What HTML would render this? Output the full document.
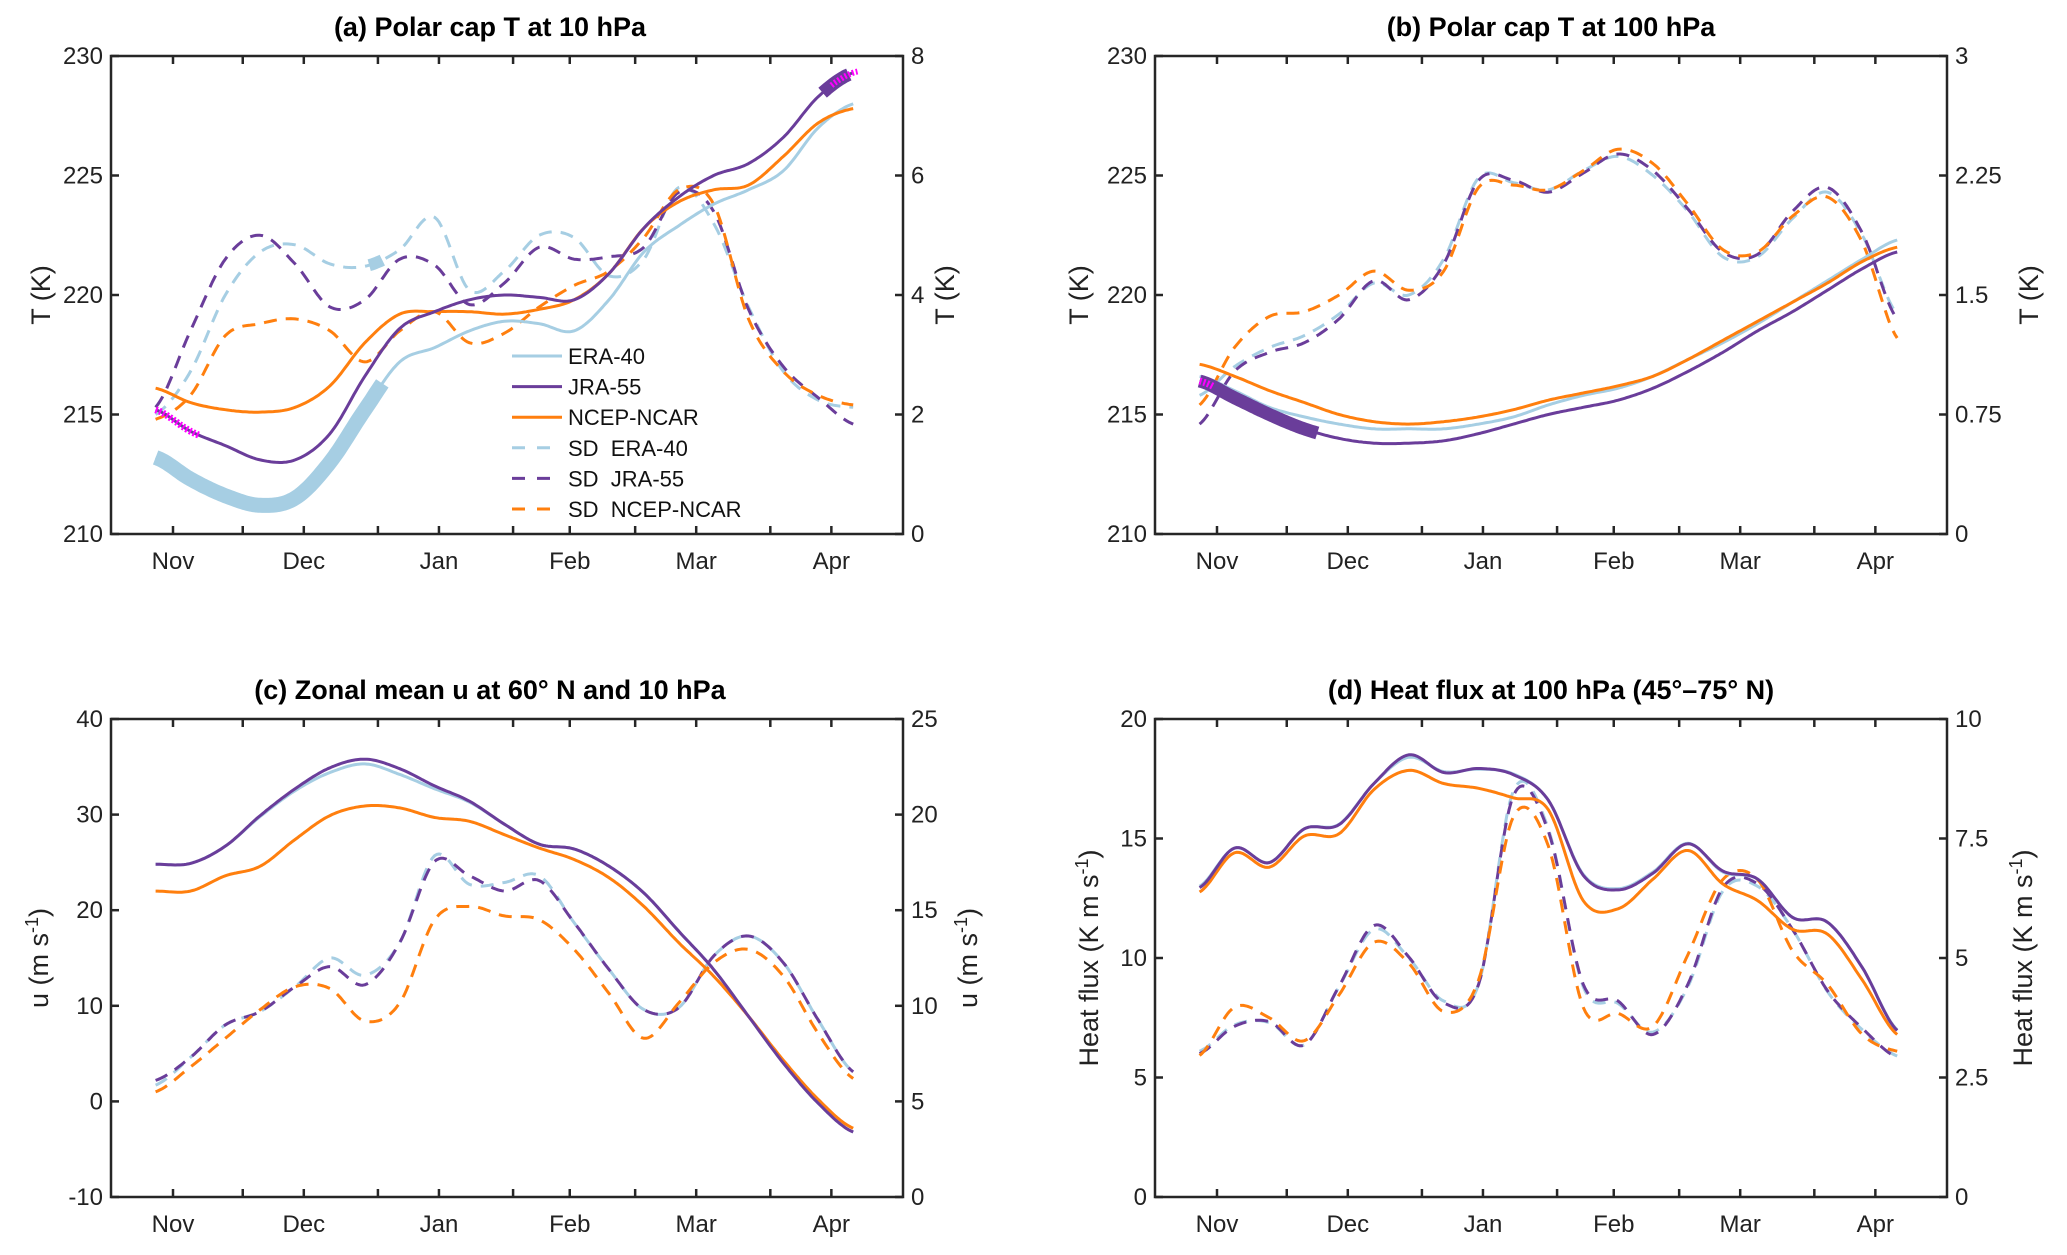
<!DOCTYPE html>
<html><head><meta charset="utf-8"><style>
html,body{margin:0;padding:0;background:#fff;}
svg{display:block;font-family:"Liberation Sans",Arial,sans-serif;}
</style></head><body>
<svg id="fig" width="2067" height="1255" viewBox="0 0 2067 1255" xmlns="http://www.w3.org/2000/svg"></svg>
<script>
// shared sample days (days since Nov 1)
const days = [-4,4,12,20,28,36,44,52,60,68,76,84,92,100,108,116,124,132,140,148,156];
const monthLabels = ["Nov","Dec","Jan","Feb","Mar","Apr"];
const monthDays = [0,30,61,91,120,151];
const minorDays = [16,47,78,106,137];

// (a) Polar cap T at 10 hPa
const aERA = [213.2,212.3,211.6,211.2,211.5,213.0,215.2,217.2,217.8,218.5,218.9,218.8,218.5,219.8,221.8,222.9,223.8,224.4,225.2,227.0,228.0];
const aJRA = [215.2,214.3,213.7,213.1,213.1,214.2,216.6,218.6,219.3,219.8,220.0,219.9,219.8,220.9,222.8,224.1,225.0,225.5,226.6,228.3,229.3];
const aNCEP = [216.1,215.5,215.2,215.1,215.3,216.2,218.0,219.2,219.3,219.3,219.2,219.4,219.8,220.9,222.8,223.9,224.4,224.6,225.8,227.2,227.8];
const aSdERA = [2.0,2.72,4.0,4.72,4.84,4.52,4.48,4.76,5.3,4.08,4.4,5.0,4.96,4.32,4.6,5.8,5.2,3.8,2.72,2.24,2.12];
const aSdJRA = [2.12,3.4,4.6,5.0,4.52,3.8,3.92,4.6,4.5,3.84,4.2,4.8,4.6,4.64,4.8,5.72,5.4,3.76,2.8,2.28,1.84];
const aSdNCEP = [1.92,2.32,3.32,3.52,3.6,3.4,2.88,3.4,3.72,3.2,3.36,3.8,4.16,4.4,4.96,5.76,5.52,3.6,2.72,2.32,2.16];
const aLeftTicks = [210,215,220,225,230];
const aRightTicks = [0,2,4,6,8];

// (b) Polar cap T at 100 hPa
const bERA = [216.6,216.0,215.3,214.9,214.6,214.4,214.4,214.4,214.6,214.9,215.4,215.8,216.1,216.6,217.3,218.0,218.8,219.7,220.6,221.5,222.3];
const bJRA = [216.4,215.7,215.0,214.4,214.0,213.8,213.8,213.9,214.2,214.6,215.0,215.3,215.6,216.1,216.8,217.6,218.5,219.3,220.2,221.1,221.8];
const bNCEP = [217.1,216.6,216.0,215.5,215.0,214.7,214.6,214.7,214.9,215.2,215.6,215.9,216.2,216.6,217.3,218.1,218.9,219.7,220.5,221.4,222.0];
const bSdERA = [0.87,1.05,1.17,1.245,1.38,1.575,1.5,1.725,2.235,2.205,2.16,2.28,2.37,2.25,2.025,1.74,1.74,1.98,2.145,1.875,1.38];
const bSdJRA = [0.69,1.02,1.14,1.2,1.35,1.59,1.47,1.695,2.22,2.22,2.145,2.265,2.385,2.28,2.04,1.77,1.755,2.025,2.175,1.89,1.35];
const bSdNCEP = [0.81,1.17,1.365,1.395,1.5,1.65,1.53,1.65,2.175,2.19,2.16,2.28,2.415,2.325,2.07,1.785,1.77,1.995,2.115,1.83,1.23];
const bLeftTicks = [210,215,220,225,230];
const bRightTicks = [0,0.75,1.5,2.25,3];

// (c) Zonal mean u at 60N, 10 hPa
const cERA = [24.8,24.9,26.7,29.8,32.5,34.4,35.3,34.2,32.7,31.3,29.0,26.9,26.4,24.6,21.8,17.8,13.8,8.9,4.0,-0.2,-3.2];
const cJRA = [24.8,24.9,26.7,29.9,32.7,34.9,35.8,34.8,33.0,31.4,29.0,26.9,26.4,24.6,21.8,17.8,13.8,8.9,4.0,-0.2,-3.2];
const cNCEP = [22.0,22.0,23.6,24.6,27.4,29.9,30.9,30.7,29.7,29.3,27.9,26.5,25.3,23.4,20.4,16.6,13.1,8.9,4.3,0.2,-2.8];
const cSdERA = [5.85,7.3,9.0,9.7,11.0,12.5,11.6,13.3,17.85,16.35,16.45,16.8,14.35,11.9,9.8,9.9,12.6,13.65,12.25,9.25,6.55];
const cSdJRA = [6.1,7.3,9.0,9.7,11.0,12.05,11.1,13.3,17.55,16.8,16.0,16.55,14.35,11.9,9.8,9.9,12.6,13.65,12.25,9.25,6.55];
const cSdNCEP = [5.5,6.8,8.3,9.8,11.0,10.9,9.2,10.15,14.5,15.2,14.7,14.5,12.95,10.65,8.3,10.15,12.25,12.95,11.55,8.55,6.2];
const cLeftTicks = [-10,0,10,20,30,40];
const cRightTicks = [0,5,10,15,20,25];

// (d) Heat flux at 100 hPa
const dERA = [13.0,14.6,14.0,15.4,15.6,17.3,18.4,17.8,17.9,17.7,16.6,13.5,12.9,13.6,14.8,13.6,13.3,11.7,11.5,9.6,7.0];
const dJRA = [12.94,14.6,13.99,15.4,15.58,17.3,18.5,17.76,17.93,17.67,16.6,13.46,12.85,13.55,14.78,13.64,13.3,11.7,11.5,9.6,6.97];
const dNCEP = [12.76,14.4,13.8,15.1,15.2,17.05,17.85,17.3,17.1,16.7,16.2,12.4,12.06,13.3,14.5,13.1,12.4,11.2,11.0,9.08,6.8];
const dSdERA = [3.05,3.6,3.65,3.18,4.4,5.6,5.0,4.1,4.45,8.5,7.7,4.4,4.05,3.45,4.4,6.4,6.5,5.6,4.3,3.5,2.95];
const dSdJRA = [3.0,3.57,3.67,3.18,4.41,5.68,5.02,4.06,4.45,8.4,7.65,4.45,4.1,3.4,4.45,6.47,6.55,5.6,4.32,3.53,2.92];
const dSdNCEP = [2.96,3.97,3.75,3.27,4.23,5.33,4.89,3.88,4.54,7.96,7.34,3.97,3.84,3.57,5.07,6.64,6.64,5.15,4.45,3.4,3.05];
const dLeftTicks = [0,5,10,15,20];
const dRightTicks = [0,2.5,5,7.5,10];

const COL = {era:"#a6cee3", jra:"#6a3d9a", ncep:"#ff7f0e", sig:"#ff00ff"};
const NS = "http://www.w3.org/2000/svg";
const svg = document.getElementById("fig");

function mk(tag, attrs, parent){
  const e = document.createElementNS(NS, tag);
  for (const k in attrs) e.setAttribute(k, attrs[k]);
  (parent||svg).appendChild(e);
  return e;
}
function evalCR(vs, t){
  const step = days[1]-days[0];
  let f = (t - days[0]) / step;
  let i = Math.min(Math.max(Math.floor(f),0), vs.length-2);
  const u = f - i;
  const p0 = vs[Math.max(i-1,0)], p1 = vs[i], p2 = vs[i+1], p3 = vs[Math.min(i+2,vs.length-1)];
  return 0.5*((2*p1)+(-p0+p2)*u+(2*p0-5*p1+4*p2-p3)*u*u+(-p0+3*p1-3*p2+p3)*u*u*u);
}
function pathFor(vs, xs, ys, t0, t1){
  let d = "";
  for (let t=t0; t<=t1+1e-6; t+=0.5){
    d += (d ? "L" : "M") + xs(t).toFixed(1) + "," + ys(evalCR(vs,t)).toFixed(1);
  }
  return d;
}
function fmt(v){ return String(v); }

function panel(cfg){
  const {id,x0,x1,y0,y1,lmin,lmax,rmin,rmax} = cfg;
  const g = mk("g",{});
  
  
  const xs = d => x0 + 62 + 4.36*d;
  const yl = v => y1 - (v-lmin)/(lmax-lmin)*(y1-y0);
  const yr = v => y1 - (v-rmin)/(rmax-rmin)*(y1-y0);
  const tt = mk("text",{x:cfg.tx, y:y0-20, "text-anchor":"middle", "font-size":27, "font-weight":"bold", fill:"#000"}, g);
  tt.textContent = cfg.title;
  
  
  const lines = mk("g",{fill:"none","stroke-linejoin":"round","stroke-linecap":"butt"}, g);
  
  
  (cfg.bands||[]).forEach(b=>{
    const p = mk("path",{d:pathFor(b.vs,xs,b.right?yr:yl,b.t0,b.t1), stroke:b.c, "stroke-width":b.w, "stroke-dasharray":b.dash||"none"}, lines);
    
    
  });
  const ser = [
    {vs:cfg.sdE,c:COL.era,r:true,n:"sd-era-40"},
    {vs:cfg.sdJ,c:COL.jra,r:true,n:"sd-jra-55"},
    {vs:cfg.sdN,c:COL.ncep,r:true,n:"sd-ncep-ncar"},
    {vs:cfg.mE,c:COL.era,r:false,n:"era-40-line"},
    {vs:cfg.mN,c:COL.ncep,r:false,n:"ncep-ncar-line"},
    {vs:cfg.mJ,c:COL.jra,r:false,n:"jra-55-line"}
  ];
  ser.forEach(s=>{
    const p = mk("path",{d:pathFor(s.vs,xs,s.r?yr:yl,days[0],days[days.length-1]), stroke:s.c, "stroke-width":3, "stroke-dasharray": s.r ? "13,9" : "none"}, lines);
    
    
  });
  (cfg.bandsTop||[]).forEach(b=>{
    const p = mk("path",{d:pathFor(b.vs,xs,b.right?yr:yl,b.t0,b.t1), stroke:b.c, "stroke-width":b.w, "stroke-dasharray":b.dash||"none"}, lines);
    
    
  });
  const box = mk("rect",{x:x0,y:y0,width:x1-x0,height:y1-y0,fill:"none",stroke:"#262626","stroke-width":2.5}, g);
  
  
  const tk = mk("g",{stroke:"#262626","stroke-width":2.5}, g);
  
  
  monthDays.concat(minorDays).forEach(d=>{
    const x = xs(d);
    mk("line",{x1:x,x2:x,y1:y1,y2:y1-8},tk);
    mk("line",{x1:x,x2:x,y1:y0,y2:y0+8},tk);
  });
  monthDays.forEach((d,i)=>{
    const t = mk("text",{x:xs(d), y:y1+35, "text-anchor":"middle","font-size":24,fill:"#222"}, g);
    t.textContent = monthLabels[i];
    
    
  });
  cfg.lt.forEach(v=>{
    const y = yl(v);
    mk("line",{x1:x0,x2:x0+8,y1:y,y2:y},tk);
    const t = mk("text",{x:x0-8, y:y+8, "text-anchor":"end","font-size":24,fill:"#222"}, g);
    t.textContent = fmt(v);
    
    
  });
  cfg.rt.forEach(v=>{
    const y = yr(v);
    mk("line",{x1:x1,x2:x1-8,y1:y,y2:y},tk);
    const t = mk("text",{x:x1+8, y:y+8, "text-anchor":"start","font-size":24,fill:"#222"}, g);
    t.textContent = fmt(v);
    
    
  });
  const cy = (y0+y1)/2;
  [[cfg.lx,'left-y-axis-title'],[cfg.rx,'right-y-axis-title']].forEach(([lx,nm])=>{
    const t = mk("text",{x:lx, y:cy, "text-anchor":"middle","font-size":27,fill:"#222", transform:`rotate(-90 ${lx} ${cy})`}, g);
    
    
    if (cfg.unit){
      const a = mk("tspan",{},t); a.textContent = cfg.label + " (" + cfg.unit + " s";
      const s = mk("tspan",{"baseline-shift":"super","font-size":18},t); s.textContent = "-1";
      const c = mk("tspan",{},t); c.textContent = ")";
    } else t.textContent = cfg.label;
  });
  return {xs,yl,yr};
}

panel({id:"a",x0:111,x1:903,y0:56,y1:534,lmin:210,lmax:230,rmin:0,rmax:8,title:"(a) Polar cap T at 10 hPa",tx:490,
  mE:aERA,mJ:aJRA,mN:aNCEP,sdE:aSdERA,sdJ:aSdJRA,sdN:aSdNCEP,lt:aLeftTicks,rt:aRightTicks,lx:50,rx:954,label:"T (K)",
  bands:[{vs:aERA,c:COL.era,w:15,t0:-4,t1:48},{vs:aSdERA,c:COL.era,w:12,t0:45,t1:48,right:true},{vs:aJRA,c:COL.jra,w:13,t0:149,t1:155}],
  bandsTop:[{vs:aJRA,c:COL.sig,w:7,t0:-4,t1:6,dash:"2,2"},{vs:aJRA,c:COL.sig,w:6,t0:151,t1:157,dash:"2,2"}]});
panel({id:"b",x0:1155,x1:1947,y0:56,y1:534,lmin:210,lmax:230,rmin:0,rmax:3,title:"(b) Polar cap T at 100 hPa",tx:1551,
  mE:bERA,mJ:bJRA,mN:bNCEP,sdE:bSdERA,sdJ:bSdJRA,sdN:bSdNCEP,lt:bLeftTicks,rt:bRightTicks,lx:1088,rx:2038,label:"T (K)",
  bandsTop:[{vs:bJRA,c:COL.jra,w:13,t0:-4,t1:23},{vs:bJRA,c:COL.sig,w:7,t0:-4,t1:-1,dash:"2,2"}]});
panel({id:"c",x0:111,x1:903,y0:719,y1:1197,lmin:-10,lmax:40,rmin:0,rmax:25,title:"(c) Zonal mean u at 60° N and 10 hPa",tx:490,
  mE:cERA,mJ:cJRA,mN:cNCEP,sdE:cSdERA,sdJ:cSdJRA,sdN:cSdNCEP,lt:cLeftTicks,rt:cRightTicks,lx:48,rx:977,label:"u",unit:"m"});
panel({id:"d",x0:1155,x1:1947,y0:719,y1:1197,lmin:0,lmax:20,rmin:0,rmax:10,title:"(d) Heat flux at 100 hPa (45°–75° N)",tx:1551,
  mE:dERA,mJ:dJRA,mN:dNCEP,sdE:dSdERA,sdJ:dSdJRA,sdN:dSdNCEP,lt:dLeftTicks,rt:dRightTicks,lx:1098,rx:2032,label:"Heat flux",unit:"K m"});

const legendNames = ["ERA-40","JRA-55","NCEP-NCAR","SD  ERA-40","SD  JRA-55","SD  NCEP-NCAR"];
const legendColors = [COL.era,COL.jra,COL.ncep,COL.era,COL.jra,COL.ncep];
const lg = mk("g",{});


legendNames.forEach((n,i)=>{
  const y = 356 + i*30.6;
  const e = mk("g",{},lg);
  
  
  mk("line",{x1:512,x2:562,y1:y,y2:y,stroke:legendColors[i],"stroke-width":3,"stroke-dasharray": i>=3 ? "13,12" : "none"},e);
  const t = mk("text",{x:568,y:y+8,"font-size":22,fill:"#111"},e);
  t.setAttribute("style","white-space:pre");
  t.textContent = n;
});
</script>
</body></html>
